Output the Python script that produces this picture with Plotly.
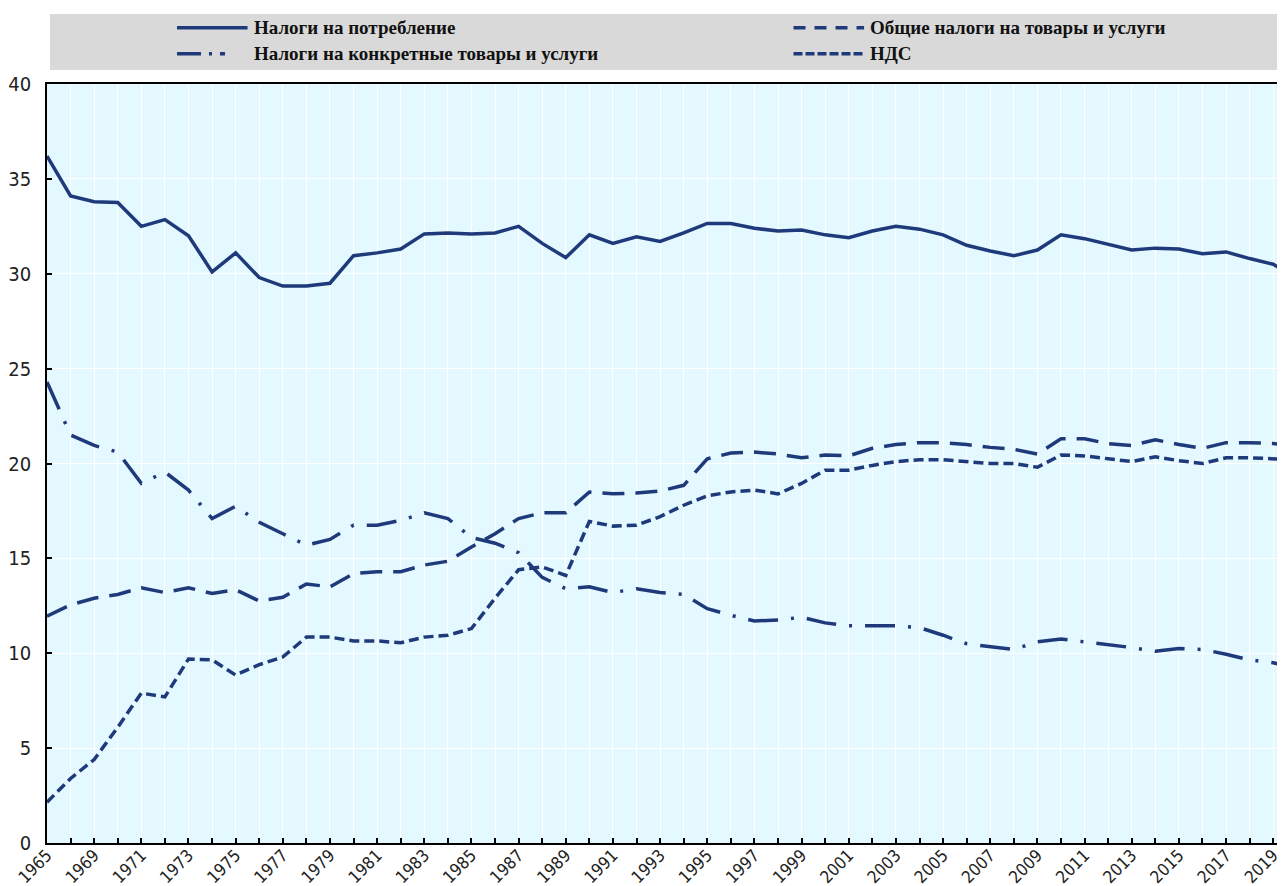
import plotly.graph_objects as go

years = ["1965"] + [str(y) for y in range(1968, 2021)]

consumption = [36.2, 34.1, 33.8, 33.75, 32.5, 32.85, 32.0, 30.1, 31.1, 29.8,
               29.35, 29.35, 29.5, 30.95, 31.1, 31.3, 32.1, 32.15, 32.1, 32.15,
               32.5, 31.6, 30.85, 32.05, 31.6, 31.95, 31.7, 32.15, 32.65, 32.65,
               32.4, 32.25, 32.3, 32.05, 31.9, 32.25, 32.5, 32.35, 32.05, 31.5,
               31.2, 30.95, 31.25, 32.05, 31.85, 31.55, 31.25, 31.35, 31.3, 31.05,
               31.15, 30.8, 30.5, 29.8]
general = [11.95, 12.55, 12.9, 13.1, 13.45, 13.2, 13.45, 13.15, 13.35, 12.75,
           12.95, 13.65, 13.5, 14.2, 14.3, 14.3, 14.65, 14.85, 15.6, 16.3,
           17.1, 17.4, 17.4, 18.5, 18.4, 18.45, 18.55, 18.85, 20.25, 20.55,
           20.6, 20.5, 20.3, 20.45, 20.4, 20.8, 21.0, 21.1, 21.1, 21.0,
           20.85, 20.75, 20.5, 21.3, 21.3, 21.05, 20.95, 21.25, 21.0, 20.8,
           21.1, 21.1, 21.05, 20.95]
specific = [24.3, 21.5, 20.95, 20.6, 18.95, 19.55, 18.6, 17.1, 17.75, 16.9,
            16.3, 15.7, 16.0, 16.75, 16.75, 17.0, 17.4, 17.1, 16.1, 15.8,
            15.3, 14.0, 13.4, 13.5, 13.2, 13.4, 13.2, 13.1, 12.35, 12.0,
            11.7, 11.75, 11.9, 11.6, 11.45, 11.45, 11.45, 11.35, 10.95, 10.5,
            10.35, 10.2, 10.6, 10.75, 10.6, 10.45, 10.3, 10.1, 10.25, 10.2,
            9.95, 9.65, 9.5, 9.2]
vat = [2.15, 3.4, 4.4, 6.1, 7.9, 7.7, 9.7, 9.65, 8.85, 9.4,
       9.8, 10.85, 10.85, 10.65, 10.65, 10.55, 10.85, 10.95, 11.3, 12.9,
       14.4, 14.55, 14.1, 16.95, 16.7, 16.75, 17.2, 17.8, 18.3, 18.5,
       18.6, 18.4, 18.95, 19.65, 19.65, 19.9, 20.1, 20.2, 20.2, 20.1,
       20.0, 20.0, 19.8, 20.45, 20.4, 20.25, 20.1, 20.35, 20.15, 20.0,
       20.3, 20.3, 20.25, 20.2]

names = ["Налоги на потребление",
         "Общие налоги на товары и услуги",
         "Налоги на конкретные товары и услуги",
         "НДС"]

tick_text = [y if i % 2 == 0 else "" for i, y in enumerate(years)]

navy = "#1f3a7a"
line_dash = ["solid", "22px,11px", "30px,13px,3px,13px", "10px,5px"]
legend_dash = ["solid", "12px,9px", "24px,8px,3px,8px,5px", "9px,3px"]
narrow = "Liberation Sans Narrow, Arial Narrow, DejaVu Sans Condensed, Liberation Sans"

fig = go.Figure()
for name, vals, dash in zip(names, [consumption, general, specific, vat], line_dash):
    fig.add_trace(go.Scatter(x=years, y=vals, name=name, mode="lines",
                             line=dict(color=navy, width=3.5, dash=dash),
                             showlegend=False))

# legend drawn by hand in a grey band above the plot
fig.add_shape(type="rect", xref="paper", yref="paper", x0=0.0024, x1=1.01,
              y0=1.0184, y1=1.0922, fillcolor="#d9d9d9", line_width=0, layer="below")
legend_pos = [(0.105, 1.074), (0.603, 1.074), (0.105, 1.040), (0.603, 1.040)]
for name, dash, (lx, ly) in zip(names, legend_dash, legend_pos):
    fig.add_shape(type="line", xref="paper", yref="paper", x0=lx, x1=lx + 0.057,
                  y0=ly, y1=ly, line=dict(color=navy, width=3.5, dash=dash))
    fig.add_annotation(xref="paper", yref="paper", x=lx + 0.0605, y=ly,
                       text="<b>" + name + "</b>",
                       showarrow=False, xanchor="left", yanchor="middle",
                       font=dict(family="Liberation Serif", size=19, color="#111111"))

fig.update_xaxes(type="category", range=[0, 52.5], tickmode="array",
                 tickvals=years, ticktext=tick_text, tickangle=-45,
                 ticks="inside", ticklen=5, tickwidth=1.5, tickcolor="black",
                 showgrid=True, gridcolor="white", gridwidth=1,
                 showline=True, linecolor="black", linewidth=1.5, mirror=True,
                 ticklabelstandoff=-6,
                 tickfont=dict(family=narrow, size=17, color="#222222"),
                 automargin=False)
fig.update_yaxes(range=[0, 40], dtick=5, ticks="inside", ticklen=5, tickwidth=1.5,
                 tickcolor="black", showgrid=True, gridcolor="white", gridwidth=1,
                 showline=True, linecolor="black", linewidth=1.5, mirror=True,
                 zeroline=False, ticklabelstandoff=10,
                 tickfont=dict(family=narrow, size=20, color="#222222"),
                 automargin=False)

fig.update_layout(width=1277, height=878,
                  margin=dict(l=39, r=0, t=76, b=43),
                  plot_bgcolor="#e4f9ff", paper_bgcolor="white",
                  showlegend=False)

fig.write_html("out.html")
